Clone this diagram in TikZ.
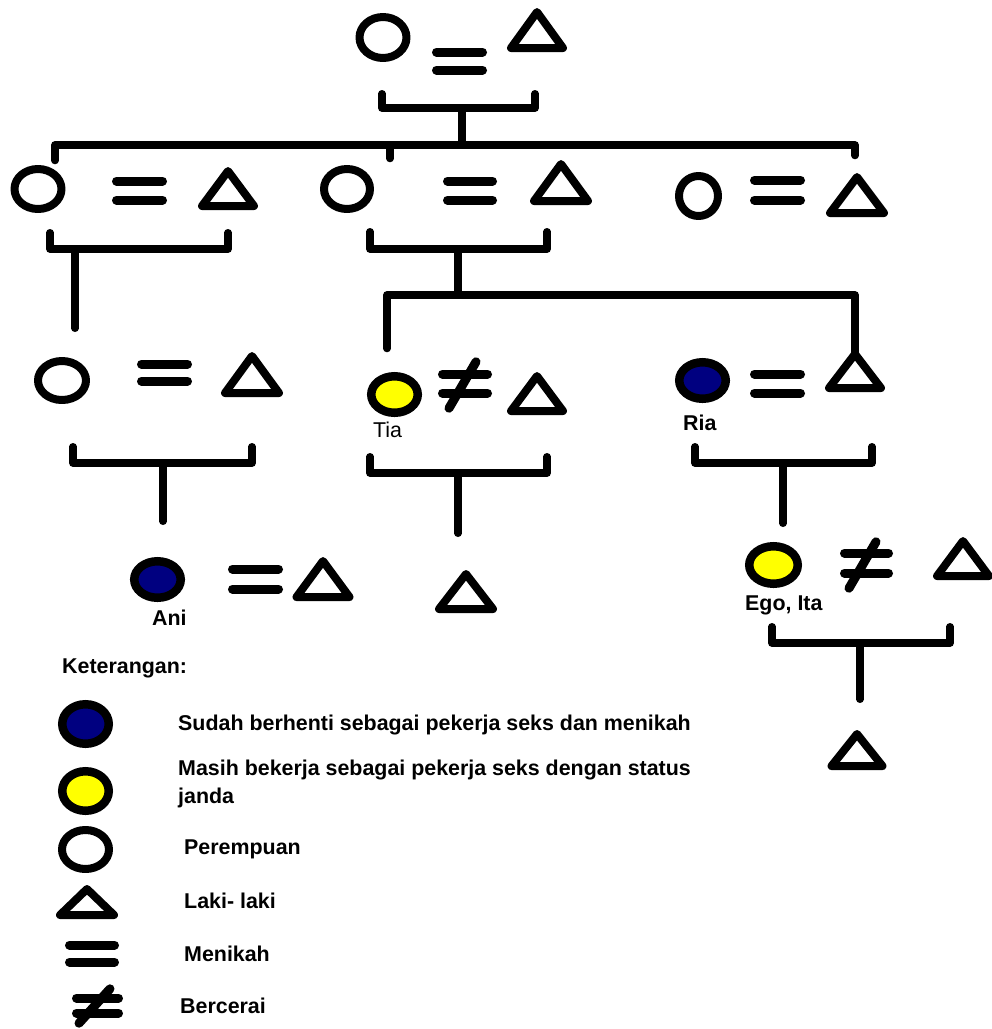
\documentclass[tikz,border=0pt]{standalone}
\usepackage{fontspec}
\setmainfont{Liberation Sans}
\definecolor{navyfill}{RGB}{0,0,128}
\definecolor{yellowfill}{RGB}{255,255,0}
\tikzset{
  sym/.style={line width=8pt, line join=round, line cap=round, draw=black},
  symfill/.style={line width=8.5pt, draw=black},
  bar/.style={line width=9pt, line cap=round},
  kinline/.style={line width=7.5pt, line cap=round, line join=round},
  lbl/.style={anchor=base west, inner sep=0pt, font=\fontsize{21.4}{25}\selectfont\bfseries},
  lblr/.style={anchor=base west, inner sep=0pt, font=\fontsize{21.4}{25}\selectfont},
}
% female: name, x, y, rx, ry (outer)
\newcommand\fem[5]{\coordinate (#1) at (#2,#3);
  \draw[sym] (#1) ellipse [x radius={#4-4}, y radius={#5-4}];}
% filled female: name, x, y, rx, ry (outer), colour
\newcommand\femf[6]{\coordinate (#1) at (#2,#3);
  \draw[symfill, fill=#6] (#1) ellipse [x radius={#4-4.25}, y radius={#5-4.25}];}
% male: name, apex x, apex y (outer), base y (outer), half width (outer)
\newcommand\male[5]{\coordinate (#1) at (#2,#3+4);
  \draw[sym] (#1) -- (#2-#5+4,#4-4) -- (#2+#5-4,#4-4) -- cycle;}
% married: name, xl, xr (outer), y1, y2
\newcommand\marr[5]{\coordinate (#1) at ({(#2+#3)/2},{(#4+#5)/2});
  \draw[bar] (#2+4.5,#4) -- (#3-4.5,#4) (#2+4.5,#5) -- (#3-4.5,#5);}
% divorced: name, xl, xr, y1, y2, slash x1, y1, x2, y2 (outer)
\newcommand\divo[9]{\coordinate (#1) at ({(#2+#3)/2},{(#4+#5)/2});
  \draw[bar] (#2+4.5,#4) -- (#3-4.5,#4) (#2+4.5,#5) -- (#3-4.5,#5);
  \draw[bar] (#6-2,#7+3.8) -- (#8+2,#9-3.8);}
% bracket: name, xl, xr, ytop, ybar, stem x, stem end y
\newcommand\brk[7]{\coordinate (#1l) at (#2,#4+3.75); \coordinate (#1r) at (#3,#4+3.75);
  \coordinate (#1m) at (#6,#5); \coordinate (#1s) at (#6,#7-3.75);
  \draw[kinline] (#1l) -- (#2,#5) -- (#3,#5) -- (#1r);
  \draw[kinline] (#1m) -- (#1s);}
\begin{document}
\begin{tikzpicture}[x=1pt,y=-1pt]
\useasboundingbox (0,0) rectangle (992,1029);
% ---------- generation 1
\fem{F1}{383}{37.5}{27.5}{24.5}
\marr{E1}{432}{487}{52}{70}
\male{M1}{537}{8}{52}{30}
\brk{B1}{382}{535}{90}{108}{462}{145}
% long sibling line
\coordinate (S1a) at (55,160.5);
\coordinate (S1b) at (390,158.5);
\coordinate (S1c) at (855,155.5);
\coordinate (S1l) at (55,145);
\coordinate (S1r) at (855,145);
\draw[kinline] (S1a) -- (S1l) -- (S1r) -- (S1c);
\draw[kinline] (390,145) -- (S1b);
% ---------- generation 2
\fem{FA}{38}{189}{27.5}{24}
\marr{EA}{112}{167}{181}{200}
\male{MA}{228}{167}{210}{30}
\fem{FB}{347}{189}{27}{24}
\marr{EB}{443}{497}{181}{200}
\male{MB}{561}{160}{205}{31}
\fem{FC}{698.5}{196}{23.5}{24}
\marr{EC}{750}{805}{180}{200}
\male{MC}{857}{173}{217}{31}
\brk{BA}{50}{228}{229}{249}{75}{332}
\brk{BB}{370}{547}{228}{249}{458}{295}
% ---------- generation 3
\fem{FD}{62}{380.5}{28}{23.5}
\marr{ED}{137}{192}{364}{381}
\male{MD}{252}{352}{397}{31}
\femf{Tia}{394.5}{394.5}{27.5}{22.5}{yellowfill}
\divo{DT}{438}{492}{374}{393}{478}{358}{447}{412}
\male{ME}{537}{372}{415}{30}
\femf{Ria}{702.5}{380.5}{27.5}{22.5}{navyfill}
\marr{ER}{750}{805}{374}{393}
\male{MF}{855}{350}{392}{30}
\coordinate (S2a) at (387,348.5);
\coordinate (S2l) at (387,295);
\coordinate (S2r) at (855,295);
\draw[kinline] (S2a) -- (S2l) -- (S2r) -- (MF);
\node[lblr] (tTia) at (373,437) {Tia};
\node[lbl] (tRia) at (683,430) {Ria};
\brk{BD}{73}{252}{443}{463}{163}{525}
\brk{BT}{370}{547}{453}{473}{458}{537}
\brk{BR}{695}{872}{443}{463}{783}{527}
% ---------- generation 4
\femf{Ani}{157.5}{579.5}{27.5}{22.5}{navyfill}
\marr{EAn}{228}{283}{569}{589}
\male{MG}{323}{557}{601}{30.5}
\male{MH}{466}{570}{613}{31}
\femf{Ita}{773.5}{565}{28.5}{23}{yellowfill}
\divo{DI}{840}{893}{553}{573}{878}{538}{847}{592}
\male{MI}{963}{537}{580}{30}
\node[lbl] (tAni) at (152,625) {Ani};
\node[lbl] (tIta) at (745,610) {Ego, Ita};
\brk{BI}{772}{950}{623}{643}{860}{703}
% ---------- generation 5
\male{MJ}{857}{730}{770}{29.5}
% ---------- legend
\node[lbl] (tKet) at (62,673) {Keterangan:};
\femf{L1}{85.5}{724}{27.5}{24}{navyfill}
\node[lbl] (tL1) at (178,730) {Sudah berhenti sebagai pekerja seks dan menikah};
\femf{L2}{85.5}{791}{27.5}{24}{yellowfill}
\node[lbl] (tL2a) at (178,775) {Masih bekerja sebagai pekerja seks dengan status};
\node[lbl] (tL2b) at (178,803) {janda};
\fem{L3}{85.5}{849.5}{27.5}{23.5}
\node[lbl] (tL3) at (184,854) {Perempuan};
\male{L4}{87}{885}{919}{31}
\node[lbl] (tL4) at (184,908) {Laki- laki};
\marr{L5}{65}{119}{945}{962}
\node[lbl] (tL5) at (184,961) {Menikah};
\divo{L6}{72}{123}{998}{1013}{112}{985}{77}{1027}
\node[lbl] (tL6) at (180,1013) {Bercerai};
\end{tikzpicture}
\end{document}
